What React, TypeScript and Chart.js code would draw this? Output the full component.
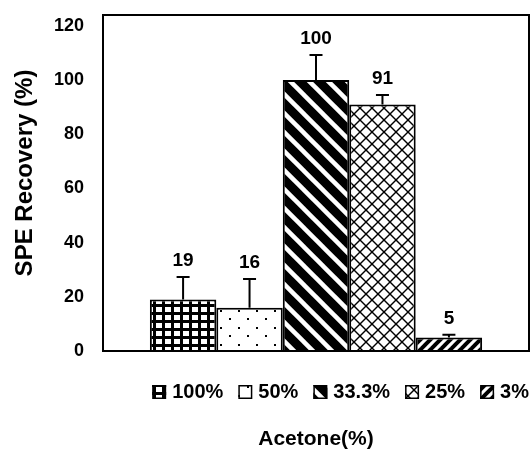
import React, { useEffect, useRef } from "react";
import { Chart, registerables } from "chart.js";

Chart.register(...registerables);

const categories = ["Acetone"];
const seriesLabels = ["100%", "50%", "33.3%", "25%", "3%"];
const recovery = [19, 16, 100, 91, 5];
const errors = [8.3, 10.6, 9.2, 3.5, 1];
const yTicks = [0, 20, 40, 60, 80, 100, 120];
const yTitle = "SPE Recovery (%)";
const xTitle = "Acetone(%)";

const FAMILY = '"Liberation Sans", Arial, Helvetica, sans-serif';

function makeTile(w: number, h: number, draw: (c: CanvasRenderingContext2D) => void) {
  const cv = document.createElement("canvas");
  cv.width = w;
  cv.height = h;
  const c = cv.getContext("2d")!;
  draw(c);
  return cv;
}

function diagTile(period: number, bg: string, fg: string, lineW: number, dir: "\\" | "/") {
  return makeTile(period, period, (c) => {
    c.fillStyle = bg;
    c.fillRect(0, 0, period, period);
    c.strokeStyle = fg;
    c.lineWidth = lineW;
    for (let k = -2; k <= 2; k++) {
      c.beginPath();
      if (dir === "\\") {
        c.moveTo(k * period - period, -period);
        c.lineTo(k * period + 2 * period, 2 * period);
      } else {
        c.moveTo(k * period - period, 2 * period);
        c.lineTo(k * period + 2 * period, -period);
      }
      c.stroke();
    }
  });
}

function buildPatterns(ctx: CanvasRenderingContext2D): (CanvasPattern | string)[] {
  const grid = makeTile(9, 8, (c) => {
    c.fillStyle = "#000";
    c.fillRect(0, 0, 9, 8);
    c.fillStyle = "#fff";
    c.fillRect(3, 3, 6, 5);
  });
  const dots = makeTile(18, 17, (c) => {
    c.fillStyle = "#fff";
    c.fillRect(0, 0, 18, 17);
    c.fillStyle = "#000";
    c.fillRect(4, 4, 2, 2);
    c.fillRect(13, 12, 2, 2);
  });
  const wide = diagTile(19, "#000", "#fff", 4.5, "\\");
  const cross = makeTile(12, 12, (c) => {
    c.fillStyle = "#fff";
    c.fillRect(0, 0, 12, 12);
    c.strokeStyle = "#000";
    c.lineWidth = 1.4;
    for (let k = -2; k <= 2; k++) {
      c.beginPath();
      c.moveTo(k * 12 - 12, -12);
      c.lineTo(k * 12 + 24, 24);
      c.stroke();
      c.beginPath();
      c.moveTo(k * 12 - 12, 24);
      c.lineTo(k * 12 + 24, -12);
      c.stroke();
    }
  });
  const slash = diagTile(10, "#fff", "#000", 4, "/");
  return [grid, dots, wide, cross, slash].map((t) => ctx.createPattern(t, "repeat") || "#000");
}

export default function App() {
  const ref = useRef<HTMLCanvasElement | null>(null);

  useEffect(() => {
    const canvas = ref.current;
    if (!canvas) return;
    const ctx0 = canvas.getContext("2d")!;
    const patterns = buildPatterns(ctx0);

    const framePlugin = {
      id: "frame",
      afterDatasetsDraw(chart: any) {
        const { ctx, chartArea: a, scales } = chart;
        const ys = scales.y;
        ctx.save();
        ctx.strokeStyle = "#000";
        ctx.lineWidth = 2;
        chart.data.datasets.forEach((ds: any, i: number) => {
          const meta = chart.getDatasetMeta(i);
          const bar = meta.data[0];
          if (!bar) return;
          const v = ds.data[0];
          const e = errors[i];
          const y0 = ys.getPixelForValue(v);
          const y1 = ys.getPixelForValue(v + e);
          ctx.beginPath();
          ctx.moveTo(bar.x, y0);
          ctx.lineTo(bar.x, y1);
          ctx.moveTo(bar.x - 6.5, y1);
          ctx.lineTo(bar.x + 6.5, y1);
          ctx.stroke();
          ctx.fillStyle = "#000";
          ctx.font = `bold 19px ${FAMILY}`;
          ctx.textAlign = "center";
          ctx.textBaseline = "alphabetic";
          ctx.fillText(String(v), bar.x, y1 - 11);
        });
        ctx.lineWidth = 2;
        ctx.strokeRect(a.left, a.top, a.right - a.left, a.bottom - a.top);
        ctx.restore();
      },
      afterDraw(chart: any) {
        const { ctx } = chart;
        ctx.save();
        ctx.fillStyle = "#000";
        ctx.font = `bold 24px ${FAMILY}`;
        ctx.textAlign = "center";
        ctx.textBaseline = "middle";
        ctx.translate(25, 173);
        ctx.rotate(-Math.PI / 2);
        ctx.fillText(yTitle, 0, 0);
        ctx.restore();

        ctx.save();
        ctx.font = `bold 20px ${FAMILY}`;
        const box = 14, gap = 6, spacing = 15;
        const widths = seriesLabels.map((l) => ctx.measureText(l).width);
        const total = widths.reduce((s, w) => s + box + gap + w, 0) + spacing * (seriesLabels.length - 1);
        let x = 529 - total;
        const yc = 392;
        seriesLabels.forEach((l, i) => {
          ctx.fillStyle = patterns[i] as any;
          ctx.fillRect(x, yc - 7, box, box);
          ctx.strokeStyle = "#000";
          ctx.lineWidth = 1.5;
          ctx.strokeRect(x + 0.75, yc - 6.25, box - 1.5, box - 1.5);
          ctx.fillStyle = "#000";
          ctx.textAlign = "left";
          ctx.textBaseline = "middle";
          ctx.fillText(l, x + box + gap, yc);
          x += box + gap + widths[i] + spacing;
        });
        ctx.restore();
      },
    };

    const chart = new Chart(canvas, {
      type: "bar",
      data: {
        labels: categories,
        datasets: seriesLabels.map((l, i) => ({
          label: l,
          data: [recovery[i]],
          backgroundColor: patterns[i] as any,
          borderColor: "#000",
          borderWidth: 2,
          categoryPercentage: 0.78,
          barPercentage: 1,
        })),
      },
      options: {
        animation: false,
        responsive: true,
        maintainAspectRatio: false,
        layout: { padding: { top: 15, right: 3, left: 0, bottom: 0 } },
        plugins: {
          legend: { display: false },
          tooltip: { enabled: false },
        },
        scales: {
          x: {
            offset: true,
            grid: { display: false },
            border: { display: false },
            ticks: { display: false },
            title: {
              display: true,
              text: xTitle,
              color: "#000",
              font: { family: FAMILY, size: 21, weight: "bold" },
              padding: { top: 0, bottom: 2.5 },
            },
            afterFit: (s: any) => {
              s.height = 103;
              s.paddingLeft = 0;
              s.paddingRight = 0;
            },
          },
          y: {
            min: 0,
            max: 124,
            grid: { display: false, drawTicks: false },
            border: { display: false },
            ticks: {
              color: "#000",
              padding: 19,
              font: { family: FAMILY, size: 18, weight: "bold" },
            },
            afterBuildTicks: (axis: any) => {
              axis.ticks = yTicks.map((v) => ({ value: v }));
            },
            afterFit: (s: any) => {
              s.width = 103;
              s.paddingTop = 0;
              s.paddingBottom = 0;
            },
          },
        },
      },
      plugins: [framePlugin],
    });
    return () => chart.destroy();
  }, []);

  return (
    <div style={{ position: "fixed", left: 0, top: 0, width: 532, height: 454, background: "#fff" }}>
      <canvas ref={ref} />
    </div>
  );
}
